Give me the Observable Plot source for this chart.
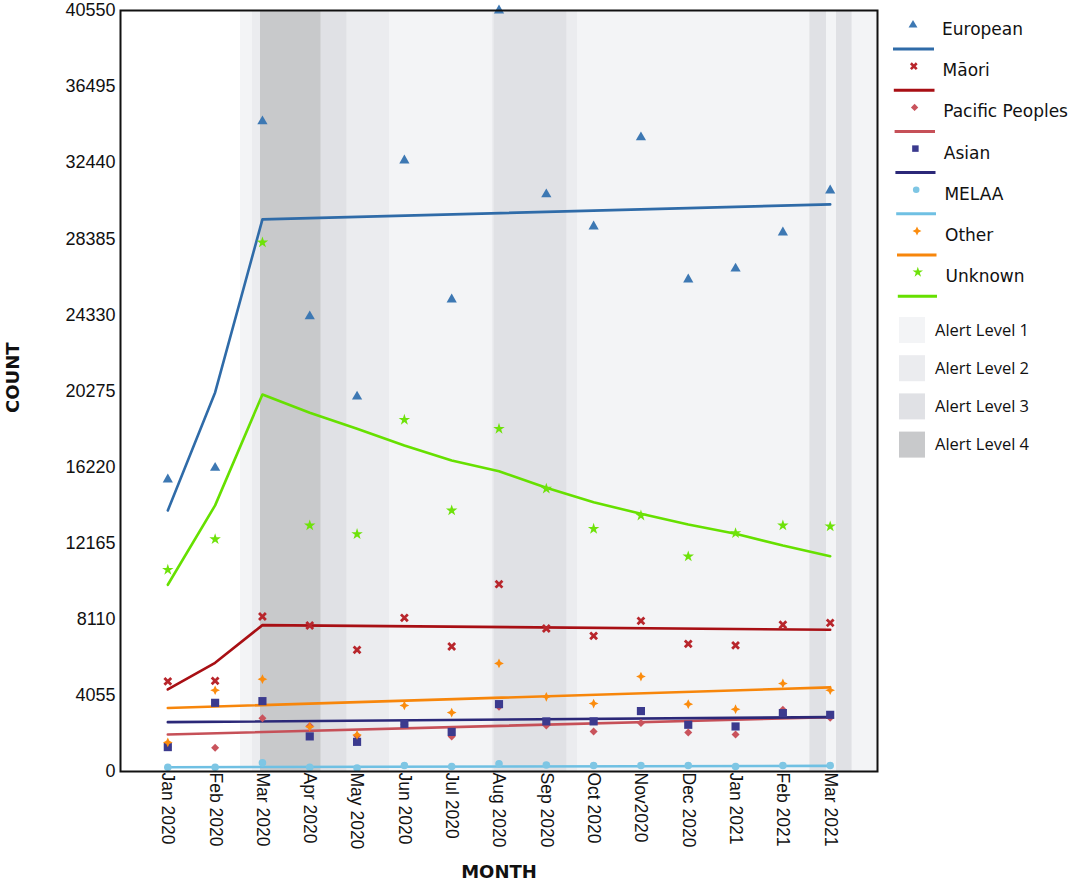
<!DOCTYPE html>
<html><head><meta charset="utf-8">
<script src="https://cdn.jsdelivr.net/npm/d3@7"></script>
<script src="https://cdn.jsdelivr.net/npm/@observablehq/plot@0.6"></script>
<style>
body{margin:0;background:#fff;}
#wrap{position:relative;width:1084px;height:883px;overflow:hidden;background:#fff;}
#chart{position:absolute;left:0;top:0;}
#legend{position:absolute;left:880px;top:0;}
</style></head><body>
<div id="wrap"><div id="chart"></div><svg id="legend" width="204" height="470"></svg></div>
<script>
// ---- data ----
const months = ["Jan 2020","Feb 2020","Mar 2020","Apr 2020","May 2020","Jun 2020","Jul 2020","Aug 2020","Sep 2020","Oct 2020","Nov2020","Dec 2020","Jan 2021","Feb 2021","Mar 2021"];
const yTicks = [0,4055,8110,12165,16220,20275,24330,28385,32440,36495,40550];

const european = [15560,16180,34640,24250,19980,32560,25150,40550,30750,29040,33790,26220,26800,28720,30960];
const maori    = [4800,4830,8260,7780,6480,8190,6660,9980,7620,7230,8030,6800,6720,7820,7920];
const pacific  = [1300,1260,2840,2430,1900,2500,1870,3450,2450,2130,2590,2080,1970,3290,2860];
const asian    = [1300,3660,3750,1870,1580,2540,2110,3590,2670,2670,3220,2490,2400,3110,3020];
const melaa    = [230,230,460,230,180,320,270,410,350,320,320,320,270,320,320];
const other    = [1550,4330,4920,2380,1950,3520,3140,5760,3980,3620,5060,3590,3320,4690,4330];
const unknown  = [10750,12380,28190,13110,12650,18740,13910,18260,15070,12930,13640,11460,12700,13110,13060];

// trend lines (month index of each vertex, value)
const europeanTrendIdx = [0,1,2,14], europeanTrend = [13910,20200,29420,30220];
const maoriTrendIdx    = [0,1,2,14], maoriTrend    = [4370,5790,7800,7550];
const pacificTrendIdx  = [0,14],     pacificTrend  = [1970,2890];
const asianTrendIdx    = [0,14],     asianTrend    = [2630,2900];
const melaaTrendIdx    = [0,14],     melaaTrend    = [230,300];
const otherTrendIdx    = [0,14],     otherTrend    = [3380,4480];
const unknownTrendIdx  = [0,1,2,3,4,5,6,7,8,9,10,11,12,13,14];
const unknownTrend     = [9950,14180,20090,19120,18260,17370,16570,16000,15120,14350,13730,13160,12670,12040,11470];

// alert-level periods (in month-index units)
const bandStart = [1.536,1.784,1.959,3.242,3.792,4.686,6.856,6.890,8.441,8.665,13.569,13.922,14.133,14.465];
const bandEnd   = [1.784,1.959,3.242,3.792,4.686,6.856,6.890,8.441,8.665,13.569,13.922,14.133,14.465,15];
const bandLevel = [1,2,4,3,2,1,2,3,2,1,3,1,3,1];
const levelNames = ["Alert Level 1","Alert Level 2","Alert Level 3","Alert Level 4"];
const levelColors = ["#f3f4f6","#ebecef","#e0e1e5","#c8c9cb"];

// ---- symbols ----
const star4 = {draw(ctx, size){
  const r = Math.sqrt(size/Math.PI)*1.35, q = r*0.32;
  ctx.moveTo(0,-r); ctx.lineTo(q,-q); ctx.lineTo(r,0); ctx.lineTo(q,q);
  ctx.lineTo(0,r); ctx.lineTo(-q,q); ctx.lineTo(-r,0); ctx.lineTo(-q,-q); ctx.closePath();
}};

const series = [
  {name:"European", values:european, tIdx:europeanTrendIdx, trend:europeanTrend, color:"#3d78b3", line:"#2f6ba8", symbol:d3.symbolTriangle, r:3.8, stroked:false},
  {name:"Māori", values:maori, tIdx:maoriTrendIdx, trend:maoriTrend, color:"#b8262c", line:"#a80f14", symbol:d3.symbolTimes, r:3.2, stroked:true},
  {name:"Pacific Peoples", values:pacific, tIdx:pacificTrendIdx, trend:pacificTrend, color:"#c9535c", line:"#c65058", symbol:d3.symbolDiamond2, r:3.6, stroked:false},
  {name:"Asian", values:asian, tIdx:asianTrendIdx, trend:asianTrend, color:"#3b3a8e", line:"#2b2878", symbol:d3.symbolSquare, r:4.6, stroked:false},
  {name:"MELAA", values:melaa, tIdx:melaaTrendIdx, trend:melaaTrend, color:"#7ec6e4", line:"#6fc0e3", symbol:d3.symbolCircle, r:3.8, stroked:false},
  {name:"Other", values:other, tIdx:otherTrendIdx, trend:otherTrend, color:"#fb8c0e", line:"#f7860b", symbol:star4, r:3.6, stroked:false},
  {name:"Unknown", values:unknown, tIdx:unknownTrendIdx, trend:unknownTrend, color:"#6ee20a", line:"#66e000", symbol:d3.symbolStar, r:3.6, stroked:false}
];

// ---- chart ----
const bands = bandStart.map((s,k)=>({start:s, end:bandEnd[k], level:bandLevel[k]}));
const marks = [];
[1,2,3,4].forEach(L => marks.push(Plot.rect(bands.filter(b=>b.level===L), {x1:"start", x2:"end", fill:levelColors[L-1]})));
series.forEach(s => marks.push(Plot.line(s.tIdx.map((i,k)=>({i, v:s.trend[k]})), {x:"i", y:"v", stroke:s.line, strokeWidth:2.6})));
series.forEach(s => marks.push(Plot.dot(s.values.map((v,i)=>({i, v})), {
  x:"i", y:"v", symbol:s.symbol, r:s.r,
  fill: s.stroked ? "none" : s.color,
  stroke: s.stroked ? s.color : "none",
  strokeWidth: s.stroked ? 2.8 : 0
})));
marks.push(Plot.axisY(yTicks, {tickSize:0, tickPadding:5, tickFormat:d=>String(d), fontSize:18, fontFamily:"Liberation Sans, Arial, sans-serif", label:null}));
marks.push(Plot.axisX(d3.range(months.length), {tickSize:0, tickPadding:1, tickRotate:90, tickFormat:i=>months[i], fontSize:17.5, fontFamily:"Liberation Sans, Arial, sans-serif", label:null}));
marks.push(Plot.frame({stroke:"#111", strokeWidth:2}));
marks.push(Plot.text(["COUNT"], {text:d=>d, frameAnchor:"left", rotate:-90, dx:-107, dy:22, fontWeight:"bold", fontSize:18, fontFamily:"DejaVu Sans, sans-serif", fill:"#111"}));
marks.push(Plot.text(["MONTH"], {text:d=>d, frameAnchor:"bottom", dy:106, fontWeight:"bold", fontSize:18, fontFamily:"DejaVu Sans, sans-serif", fill:"#111"}));

const chart = Plot.plot({
  width:880, height:883,
  marginLeft:120, marginRight:3, marginTop:10, marginBottom:112,
  x:{type:"linear", domain:[-1,15]},
  y:{domain:[0,40550]},
  style:{background:"#fff", color:"#111"},
  marks
});
document.getElementById("chart").appendChild(chart);

// ---- legend ----
const lg = d3.select("#legend");
series.forEach((s,k) => {
  const cy = 25 + k*41.2;
  lg.append("path").attr("transform",`translate(${33 + k*0.8},${cy})`)
    .attr("d", d3.symbol(s.symbol, s.stroked ? 24 : (s.symbol===d3.symbolSquare ? 42 : 34))())
    .attr("fill", s.stroked ? "none" : s.color)
    .attr("stroke", s.stroked ? s.color : "none")
    .attr("stroke-width", s.stroked ? 2.6 : 0);
  lg.append("text").attr("x", 62 + k*0.6).attr("y", cy + 4).attr("dy","0.35em")
    .attr("font-family","DejaVu Sans, sans-serif").attr("font-size",17).attr("fill","#111")
    .text(s.name);
  lg.append("line").attr("x1", 13 + k*0.8).attr("x2", 54 + k*0.5).attr("y1", cy + 24).attr("y2", cy + 24)
    .attr("stroke", s.line).attr("stroke-width", 3);
});
levelNames.forEach((n,k) => {
  const cy = 330 + k*38.2;
  lg.append("rect").attr("x",19).attr("y",cy-13).attr("width",26).attr("height",26).attr("fill",levelColors[k]);
  lg.append("text").attr("x",55).attr("y",cy).attr("dy","0.35em")
    .attr("font-family","Open Sans, sans-serif").attr("font-size",16.5).attr("fill","#111").text(n);
});
</script></body></html>
